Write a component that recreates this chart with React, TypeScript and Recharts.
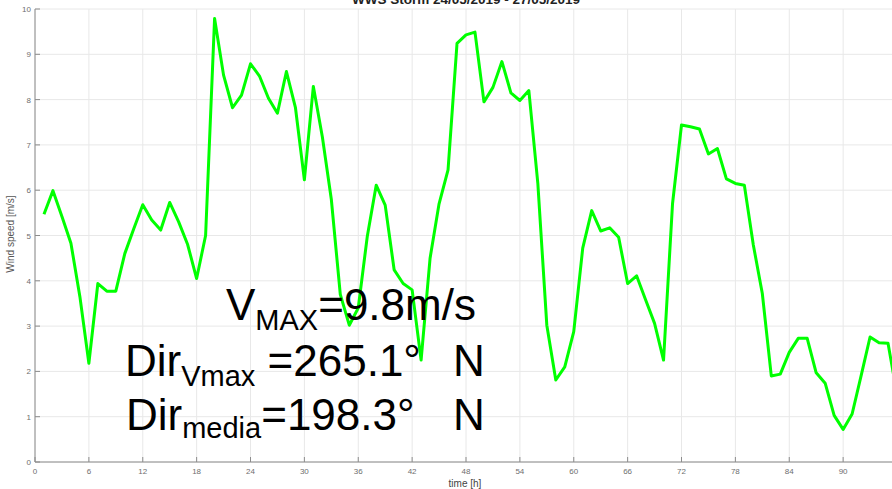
import { LineChart, Line, XAxis, YAxis, CartesianGrid } from 'recharts';

// wind speed [m/s], one reading per hour starting at h=1
const windSpeed = [
  5.47, 5.99, 5.42, 4.83, 3.65, 2.18, 3.94, 3.77, 3.77, 4.6,
  5.15, 5.68, 5.34, 5.12, 5.73, 5.3, 4.8, 4.05, 5.0, 9.79,
  8.54, 7.82, 8.1, 8.79, 8.52, 8.03, 7.7, 8.62, 7.83, 6.23,
  8.29, 7.18, 5.8, 3.7, 3.02, 3.4, 4.97, 6.11, 5.67, 4.24,
  3.94, 3.8, 2.25, 4.5, 5.7, 6.45, 9.24, 9.43, 9.49, 7.95,
  8.27, 8.84, 8.15, 7.98, 8.2, 6.15, 3.02, 1.81, 2.1, 2.88,
  4.72, 5.55, 5.1, 5.17, 4.96, 3.94, 4.11, 3.58, 3.06, 2.25,
  5.7, 7.44, 7.4, 7.35, 6.8, 6.92, 6.25, 6.15, 6.11, 4.79,
  3.72, 1.9, 1.94, 2.42, 2.73, 2.73, 1.97, 1.74, 1.03, 0.72,
  1.06, 1.9, 2.76, 2.63, 2.62, 1.5,
];

const xTicks = [0, 6, 12, 18, 24, 30, 36, 42, 48, 54, 60, 66, 72, 78, 84, 90, 96];
const yTicks = [0, 1, 2, 3, 4, 5, 6, 7, 8, 9, 10];

const data = windSpeed.map((v, i) => ({ hour: i + 1, speed: v }));

const FONT = '"Liberation Sans", Arial, Helvetica, sans-serif';
const AXIS = '#8c8c8c';
const TICK_TEXT = '#6e6e6e';

const BottomTick = (props: any) => {
  const { x, y, payload } = props;
  return (
    <g>
      <line x1={x} y1={y} x2={x} y2={y - 5} stroke={AXIS} />
      <text x={x} y={y + 12} textAnchor="middle" fontSize={8} fontFamily={FONT} fill={TICK_TEXT}>
        {payload.value}
      </text>
    </g>
  );
};

const TopTick = (props: any) => {
  const { x, y } = props;
  return <line x1={x} y1={y} x2={x} y2={y + 5} stroke={AXIS} />;
};

const LeftTick = (props: any) => {
  const { x, y, payload } = props;
  return (
    <g>
      <line x1={x} y1={y} x2={x + 5} y2={y} stroke={AXIS} />
      <text x={x - 4} y={y + 3} textAnchor="end" fontSize={8} fontFamily={FONT} fill={TICK_TEXT}>
        {payload.value}
      </text>
    </g>
  );
};

export default function App() {
  return (
    <div style={{ position: 'fixed', top: 0, left: 0, width: 892, height: 489, overflow: 'hidden', background: '#fff' }}>
      <LineChart width={920} height={489} data={data} margin={{ top: 9, right: 23, bottom: 0, left: 0 }}>
        <CartesianGrid stroke="#e8e8e8" />
        <XAxis
          dataKey="hour"
          type="number"
          domain={[0, 96]}
          ticks={xTicks}
          interval={0}
          height={27}
          stroke={AXIS}
          tickSize={0}
          tickMargin={0}
          tick={<BottomTick />}
        />
        <XAxis
          xAxisId="top"
          orientation="top"
          dataKey="hour"
          type="number"
          domain={[0, 96]}
          ticks={xTicks}
          interval={0}
          height={0}
          stroke={AXIS}
          tickSize={0}
          tickMargin={0}
          tick={<TopTick />}
        />
        <YAxis
          type="number"
          domain={[0, 10]}
          ticks={yTicks}
          interval={0}
          width={35}
          stroke={AXIS}
          tickSize={0}
          tickMargin={0}
          tick={<LeftTick />}
        />
        <Line
          type="linear"
          dataKey="speed"
          stroke="#00ff00"
          strokeWidth={3}
          strokeLinejoin="round"
          dot={false}
          isAnimationActive={false}
        />
      </LineChart>

      <svg
        width={892}
        height={489}
        style={{ position: 'absolute', top: 0, left: 0, pointerEvents: 'none' }}
        fontFamily={FONT}
      >
        <text x={466} y={3.5} textAnchor="middle" fontSize={13.5} fontWeight="bold" fill="#222">
          WWS Storm 24/05/2019 - 27/05/2019
        </text>
        <text x={14} y={234} textAnchor="middle" fontSize={10} fill="#555" transform="rotate(-90 14 234)">
          Wind speed [m/s]
        </text>
        <text x={465} y={487} textAnchor="middle" fontSize={10} fill="#444">
          time [h]
        </text>

        {/* annotation block */}
        <text x={226} y={320} fontSize={44} fill="#000">
          V<tspan fontSize={29} dy={10}>MAX</tspan>
          <tspan dy={-10}>=9.8m/s</tspan>
        </text>
        <text x={125} y={376} fontSize={44} fill="#000">
          Dir<tspan fontSize={29} dy={10}>Vmax</tspan>
          <tspan dy={-10}> =265.1°</tspan>
        </text>
        <text x={453} y={376} fontSize={44} fill="#000">N</text>
        <text x={126} y={430} fontSize={44} fill="#000">
          Dir<tspan fontSize={29} dy={8}>media</tspan>
          <tspan dy={-8}>=198.3°</tspan>
        </text>
        <text x={453} y={430} fontSize={44} fill="#000">N</text>
      </svg>
    </div>
  );
}
